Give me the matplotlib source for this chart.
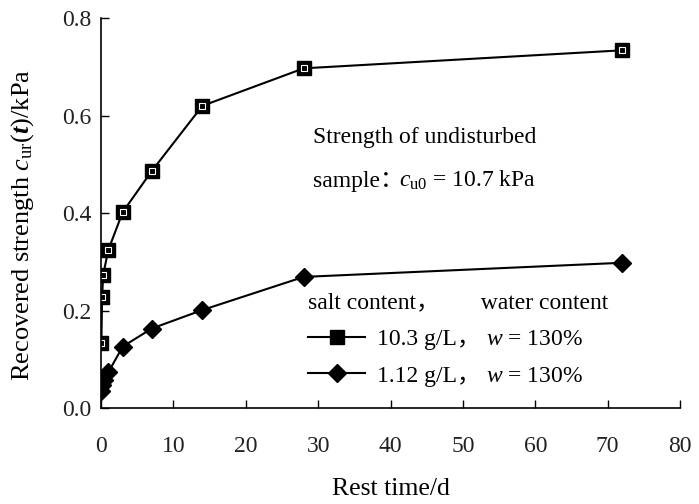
import matplotlib
matplotlib.use('Agg')
import matplotlib.pyplot as plt

plt.rcParams['font.family'] = ['Liberation Serif', 'Noto Sans CJK SC']
plt.rcParams['mathtext.fontset'] = 'custom'
plt.rcParams['mathtext.rm'] = 'Liberation Serif'
plt.rcParams['mathtext.it'] = 'Liberation Serif:italic'
plt.rcParams['mathtext.bf'] = 'Liberation Serif:bold:italic'

# 静置时间 (d) 与恢复强度 (kPa)
t_high = [0.05, 0.15, 0.3, 1, 3, 7, 14, 28, 72]
s_high = [0.133, 0.228, 0.273, 0.324, 0.402, 0.486, 0.620, 0.697, 0.734]
t_low = [0.05, 0.15, 0.4, 1, 3, 7, 14, 28, 72]
s_low = [0.035, 0.047, 0.057, 0.073, 0.126, 0.163, 0.201, 0.269, 0.298]

FS = 17

fig = plt.figure(figsize=(6.99, 5.04), dpi=100)
ax = fig.add_axes([0.1445, 0.1905, 0.8285, 0.7735])

ax.plot(t_high, s_high, c='black', linewidth=1.5, marker='s', markersize=10,
        markerfacecolor='black', markeredgecolor='black', label='10.3 g/L，')
ax.plot(t_high, s_high, linestyle='none', marker='s', markersize=4,
        markerfacecolor='none', markeredgecolor='white', markeredgewidth=0.8)
ax.plot(t_low, s_low, c='black', linewidth=1.5, marker='D', markersize=9.5,
        markerfacecolor='black', markeredgecolor='black', label='1.12 g/L，')

ax.set_xlim(0, 80)
ax.set_ylim(0, 0.8)
ax.set_xticks(range(0, 81, 10))
ax.set_yticks([0.0, 0.2, 0.4, 0.6, 0.8])
ax.set_yticklabels(['0.0', '0.2', '0.4', '0.6', '0.8'])
ax.spines['top'].set_visible(False)
ax.spines['right'].set_visible(False)
ax.spines['left'].set_linewidth(1.2)
ax.spines['bottom'].set_linewidth(1.2)
ax.tick_params(axis='both', direction='in', length=6, width=1, labelsize=FS)
ax.tick_params(axis='x', pad=20)
ax.tick_params(axis='y', pad=7)
for lbl in ax.get_xticklabels() + ax.get_yticklabels():
    lbl.set_color('#222222')

ax.set_xlabel('Rest time/d', fontsize=18.5, labelpad=15)
ax.set_ylabel('Recovered strength $c_{\\mathrm{ur}}(\\mathbf{t})$/kPa', fontsize=19)
ax.yaxis.set_label_coords(-0.112, 0.47)

ax.text(0.366, 0.68, 'Strength of undisturbed', transform=ax.transAxes, fontsize=FS)
t1 = ax.text(0.366, 0.567, 'sample：', transform=ax.transAxes, fontsize=FS)
ax.annotate('$c_{\\mathrm{u0}}$ = 10.7 kPa', xy=(1, 0.567), xycoords=(t1, 'axes fraction'),
            xytext=(-3, 0), textcoords='offset points', fontsize=FS, va='baseline')

leg = ax.legend(loc='upper left', bbox_to_anchor=(0.3415, 0.322), frameon=False,
                fontsize=FS, title='salt content，       water content',
                title_fontsize=FS, alignment='left', handlelength=2.4,
                handletextpad=0.5, labelspacing=0.65, borderaxespad=0)
for txt in leg.get_texts():
    ax.annotate('$\\it{w}$ = 130%', xy=(1, 0), xycoords=txt, zorder=6,
                xytext=(4, 0), textcoords='offset points', fontsize=FS, va='bottom')

fig.savefig('out.png', dpi=100)
